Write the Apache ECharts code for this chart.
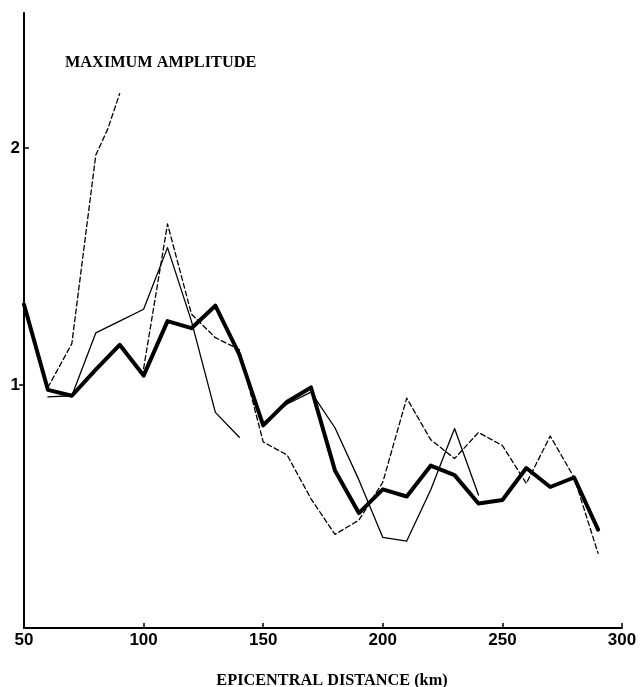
<!DOCTYPE html>
<html>
<head>
<meta charset="utf-8">
<script src="https://cdn.jsdelivr.net/npm/echarts@6/dist/echarts.min.js"></script>
<style>html,body{margin:0;padding:0;background:#fff;}#c{width:640px;height:687px;}</style>
</head>
<body>
<div id="c"></div>
<script>
// Data
var xTicks = [50, 100, 150, 200, 250, 300];
var yTicks = [1, 2];

var meanDist = [50,60,70,80,90,100,110,120,130,140,150,160,170,180,190,200,210,220,230,240,250,260,270,280,290];
var meanAmp  = [1.34,0.98,0.955,1.065,1.17,1.04,1.27,1.24,1.335,1.13,0.83,0.93,0.99,0.64,0.46,0.56,0.53,0.66,0.62,0.50,0.515,0.65,0.57,0.61,0.39];

var thinADist = [60,70,80,90,100,110,120,130,140];
var thinAAmp  = [0.95,0.955,1.22,1.27,1.32,1.58,1.27,0.885,0.78];

var thinBDist = [150,160,170,180,190,200,210,220,230,240];
var thinBAmp  = [0.84,0.92,0.97,0.82,0.60,0.357,0.342,0.557,0.817,0.536];

var dashADist = [60,70,80,85,90];
var dashAAmp  = [0.99,1.175,1.97,2.08,2.23];

var dashBDist = [100,110,120,130,140,150,160,170,180,190,200,210,220,230,240,250,260,270,280,290];
var dashBAmp  = [1.07,1.68,1.30,1.20,1.15,0.76,0.705,0.52,0.37,0.43,0.59,0.945,0.77,0.69,0.80,0.745,0.585,0.785,0.61,0.29];

function pairs(xs, ys){ return xs.map(function(x,i){ return [x, ys[i]]; }); }

var chart = echarts.init(document.getElementById('c'), null, {renderer:'canvas'});
var labelFont = {color:'#000', fontFamily:'Liberation Sans, Arial, sans-serif', fontWeight:'bold', fontSize:17};

function lineSeries(xs, ys, width, dashed){
  return {
    type:'line', data: pairs(xs, ys), showSymbol:false, symbol:'none', silent:true,
    lineStyle:{color:'#000', width: width, type: dashed ? [5,3] : 'solid', join:'round', cap:'round'},
    animation:false, z: width > 2 ? 3 : 2
  };
}

chart.setOption({
  backgroundColor:'#fff',
  animation:false,
  grid:{left:24, right:18, top:13, bottom:59, outerBoundsMode:'none'},
  xAxis:{
    type:'value', min:50, max:300, interval:50,
    axisLine:{show:true, onZero:false, lineStyle:{color:'#000', width:2}},
    axisTick:{show:true, inside:true, length:5, lineStyle:{color:'#000', width:1.5}},
    axisLabel:Object.assign({margin:4, customValues: xTicks}, labelFont),
    splitLine:{show:false}
  },
  yAxis:[{
    type:'value', min:-0.025, max:2.57,
    axisLine:{show:true, onZero:false, lineStyle:{color:'#000', width:2}},
    axisTick:{show:true, inside:false, length:5, customValues:[yTicks[0]], lineStyle:{color:'#000', width:1.5}},
    axisLabel:Object.assign({margin:4, customValues: yTicks}, labelFont),
    splitLine:{show:false}
  },{
    type:'value', min:-0.025, max:2.57, position:'left',
    axisLine:{show:false},
    axisTick:{show:true, inside:true, length:5, customValues:[yTicks[1]], lineStyle:{color:'#000', width:1.5}},
    axisLabel:{show:false},
    splitLine:{show:false}
  }],
  graphic:[
    {type:'text', left:65, top:55, style:{text:'MAXIMUM AMPLITUDE', fill:'#000', font:'bold 16.3px "Liberation Serif", "Times New Roman", serif'}},
    {type:'text', x:332, y:681, style:{text:'EPICENTRAL DISTANCE (km)', fill:'#000', align:'center', verticalAlign:'middle', font:'bold 16.3px "Liberation Serif", "Times New Roman", serif'}}
  ],
  series:[
    lineSeries(dashADist, dashAAmp, 1.3, true),
    lineSeries(dashBDist, dashBAmp, 1.3, true),
    lineSeries(thinADist, thinAAmp, 1.3, false),
    lineSeries(thinBDist, thinBAmp, 1.3, false),
    lineSeries(meanDist, meanAmp, 4, false)
  ]
});
</script>
</body>
</html>
